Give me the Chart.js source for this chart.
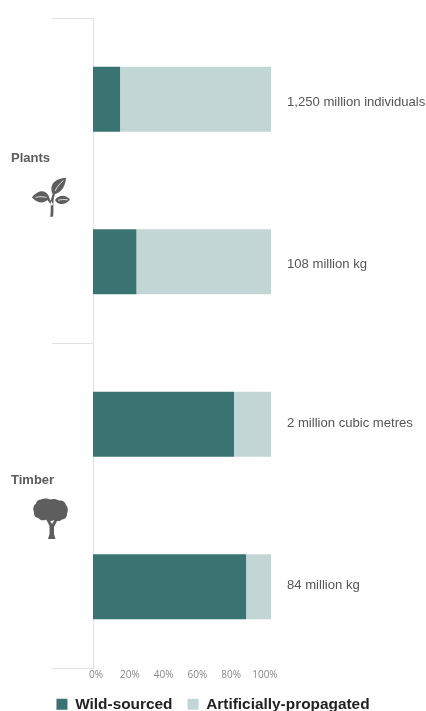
<!DOCTYPE html>
<html><head><meta charset="utf-8">
<style>html,body{margin:0;padding:0;background:#fff;overflow:hidden}#w{width:426px;height:711px;position:relative}</style>
<script src="https://cdn.jsdelivr.net/npm/chart.js@4"></script></head>
<body><div id="w"><canvas id="c" width="426" height="711"></canvas></div>
<script>
const categories = ["1,250 million individuals","108 million kg","2 million cubic metres","84 million kg"];
const wildSourced = [15.2,24.4,79.2,86];
const artificiallyPropagated = [84.8,75.6,20.8,14];
const tickLabels = [0,20,40,60,80,100];
const groups = ["Plants","Timber"];
const groupSpans = [[0,1],[2,3]];
const groupLabelOffsets = [-22.5,-25.5];
const barLabelOffsets = [3,2.5,-0.5,-1];

const leafTop = new Path2D("M52.5 194 C49.5 187 53 181.5 58 179.5 C61 178.3 64 178 66 177.8 C65.8 181 65 185 63 188 C60.5 192 56.5 194.5 52.5 194 Z");
const leafLeft = new Path2D("M32 197.5 C35 193 41 190 45 192 C47.5 193.2 49 196 49.5 198.5 C47 201 43 203 39.5 202.3 C36.5 201.7 34 199.7 32 197.5 Z");
const leafRight = new Path2D("M55 200 C57 196.5 62 194.5 66 196.5 C68 197.5 69.5 198.5 70 199.8 C68 202 64.5 204.5 60.5 204 C58 203.7 56 202 55 200 Z");
const stem = new Path2D("M50.3 217 L53.2 216.5 C53.8 210 53 205 53.6 200 C54 196.5 55 193.5 57 190 L55.5 189 C53 193 51.6 196.5 51 200 C50.4 204 51.2 210 50.3 217 Z M49 198 L53 204 L52 206 L47.5 200 Z");
const veins = new Path2D("M55 191 C57 187 60 183 63.5 180.5 M35.5 197.5 C39 196.3 43 196.6 46.5 197.5 M58 200.3 C61 199.4 64 199.4 67.5 199.8");
const treeCanopy = new Path2D("M41 499.5 C44 498 48 498.5 50 499.5 C53 498.5 57 499 59 500.5 C62.5 500 65.5 502 66 505 C68 507 68.5 511 67 513.5 C67.5 516.5 65 519.5 62 519.5 C60 521.5 56.5 521.5 54.5 520 C51.5 521.5 48 521.5 46 519.5 C43.5 521 40 520.5 38.5 518 C35.5 518 33.5 515 34 512 C32.5 509 33.5 505 36 503.5 C36.5 501 39 499.5 41 499.5 Z");
const treeTrunk = new Path2D("M45.5 518 L49.5 526 L49.5 534 L48 539 L55.5 539 L54 534 L54 527 L58.5 518 L55.5 518 L52 524 L48.5 518 Z");

const annotate = {
  id:"annotate",
  afterDatasetsDraw(chart){
    const {ctx,scales:{y},chartArea:a}=chart;
    ctx.save();
    ctx.strokeStyle="#e2e2e2";ctx.lineWidth=1;
    [-0.5,1.5,3.5].forEach(b=>{const py=Math.round(y.getPixelForValue(b))+0.5;
      ctx.beginPath();ctx.moveTo(52,py);ctx.lineTo(a.left,py);ctx.stroke();});
    ctx.fillStyle="#555";ctx.font="13.1px 'Liberation Sans'";ctx.textBaseline="middle";ctx.textAlign="left";
    chart.getDatasetMeta(1).data.forEach((b,i)=>ctx.fillText(categories[i],b.x+16,b.y+barLabelOffsets[i]));
    ctx.font="bold 13px 'Liberation Sans'";ctx.fillStyle="#5c5c5c";
    groups.forEach((g,i)=>{
      const py=(y.getPixelForValue(groupSpans[i][0])+y.getPixelForValue(groupSpans[i][1]))/2;
      ctx.fillText(g,11,py+groupLabelOffsets[i]);
    });
    ctx.fillStyle="#5e5e5e";
    [leafTop,leafLeft,leafRight,stem,treeCanopy,treeTrunk].forEach(p=>ctx.fill(p));
    ctx.strokeStyle="#fff";ctx.lineWidth=0.8;ctx.stroke(veins);
    ctx.restore();
  }
};

new Chart(document.getElementById("c"),{
  type:"bar",
  data:{labels:categories,datasets:[
    {label:"Wild-sourced",data:wildSourced,backgroundColor:"#3a7472",barPercentage:0.4,categoryPercentage:1,xAxisID:"x"},
    {label:"Artificially-propagated",data:artificiallyPropagated,backgroundColor:"#c3d6d6",barPercentage:0.4,categoryPercentage:1,xAxisID:"x"}
  ]},
  options:{
    indexAxis:"y",responsive:false,animation:false,
    layout:{padding:{top:18,right:0,left:0,bottom:-11}},
    plugins:{
      tooltip:{enabled:false},
      legend:{position:"bottom",labels:{boxWidth:11,boxHeight:11,padding:15,color:"#222",font:{family:"'Liberation Sans'",size:15.4,weight:"bold"}}}
    },
    scales:{
      x:{stacked:true,min:0,max:100,display:false},
      x2:{type:"linear",position:"bottom",min:-1.8,max:103.6,
        afterBuildTicks(s){s.ticks=tickLabels.map(v=>({value:v}));s._computeLabelArea=()=>undefined;},
        afterFit(s){s.height=13.5;},
        grid:{display:false,drawTicks:false},border:{display:false},
        ticks:{padding:1,maxRotation:0,autoSkip:false,color:"#888",font:{family:"'Open Sans'",size:10},callback:v=>v+"%"}},
      y:{stacked:true,type:"category",afterFit(s){s.width=93;},
        grid:{display:false},border:{display:true,color:"#e2e2e2",width:1},
        ticks:{display:false}},
      yRight:{type:"category",position:"right",labels:categories,afterFit(s){s.width=155;},
        grid:{display:false},border:{display:false},ticks:{display:false}}
    }
  },
  plugins:[annotate]
});
</script></body></html>
